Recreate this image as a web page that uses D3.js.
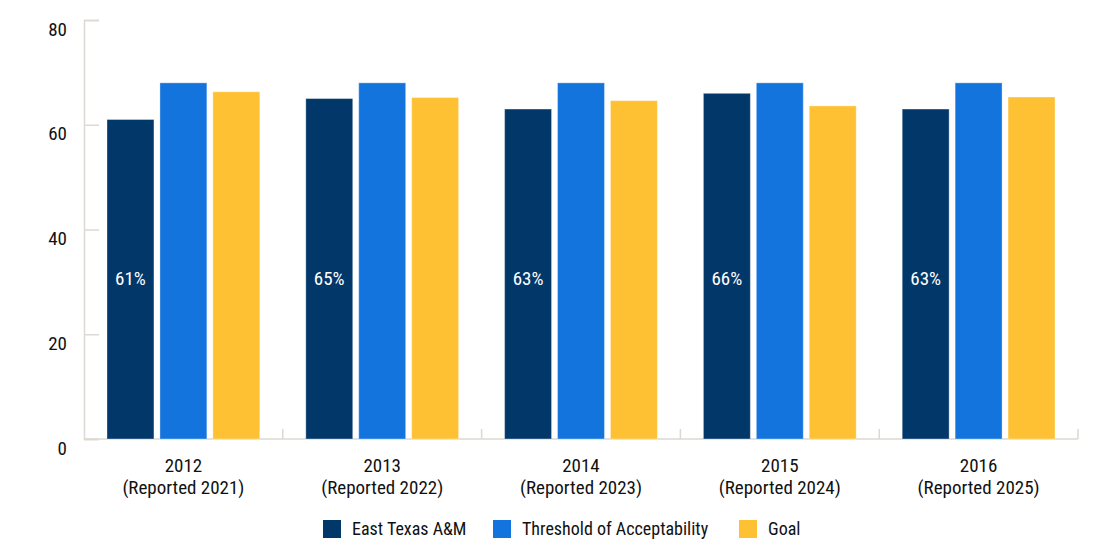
<!DOCTYPE html>
<html>
<head>
<meta charset="utf-8">
<script src="https://cdn.jsdelivr.net/npm/d3@7"></script>
<style>
  body { margin: 0; background: #fff; }
  text { font-family: "Roboto Condensed", "Liberation Sans Narrow", "DejaVu Sans Condensed", sans-serif; }
</style>
</head>
<body>
<div id="graph"></div>
<script>
//Chart data.
let categories = ["2012", "2013", "2014", "2015", "2016"]
let reported = ["(Reported 2021)", "(Reported 2022)", "(Reported 2023)", "(Reported 2024)", "(Reported 2025)"]
let seriesNames = ["East Texas A&M", "Threshold of Acceptability", "Goal"]
let eastTexas = [61, 65, 63, 66, 63]
let threshold = [68, 68, 68, 68, 68]
let goal = [66.3, 65.2, 64.6, 63.6, 65.3]
let yTicks = [0, 20, 40, 60, 80]

let colors = ["#02376a", "#1374de", "#ffc134"]

//Dimensions of the graph.
let w = 1112
let h = 557
let plotLeft = 84
let plotRight = 1078
let plotTop = 20
let plotBottom = 439

let xScale
let innerScale
let yScale

const svg = d3.select("#graph")
  .append("svg")
  .attr("width", w)
  .attr("height", h)

getScales()
drawAxis()
drawChart()
addLabels()
drawLegend()

function getScales() {
  xScale = d3.scaleBand()
    .domain(categories)
    .range([plotLeft, plotRight])

  //Three bars inside each group, 47px wide with a 6px gap.
  innerScale = d3.scaleBand()
    .domain(seriesNames)
    .range([23, xScale.bandwidth() - 23])
    .paddingInner(6 / 53)

  yScale = d3.scaleLinear()
    .domain([0, 80])
    .range([plotBottom, plotTop])
}

function drawAxis() {
  //Y axis with ticks pointing into the plot.
  const yAxis = svg.append("g")
    .attr("transform", "translate(" + plotLeft + ",0)")
    .call(d3.axisRight(yScale).tickValues(yTicks).tickSize(15).tickFormat(""))
  yAxis.select(".domain").attr("stroke", "#dcd8d3").attr("stroke-width", 1.5)
  yAxis.selectAll(".tick line").attr("stroke", "#dcd8d3").attr("stroke-width", 1.5)

  svg.selectAll(".y-label")
    .data(yTicks)
    .enter()
    .append("text")
    .attr("class", "y-label")
    .attr("x", 67)
    .attr("y", (d) => yScale(d) + 9)
    .attr("dy", "0.35em")
    .attr("text-anchor", "end")
    .attr("font-size", 19)
    .attr("fill", "#111")
    .text((d) => d)

  //X axis with short ticks at the group boundaries.
  const bounds = categories.map((c) => xScale(c) + xScale.bandwidth())
  svg.append("line")
    .attr("x1", plotLeft)
    .attr("x2", plotRight)
    .attr("y1", plotBottom)
    .attr("y2", plotBottom)
    .attr("stroke", "#dcd8d3")
    .attr("stroke-width", 1.5)
  svg.selectAll(".x-tick")
    .data(bounds)
    .enter()
    .append("line")
    .attr("class", "x-tick")
    .attr("x1", (d) => d)
    .attr("x2", (d) => d)
    .attr("y1", plotBottom)
    .attr("y2", plotBottom - 10)
    .attr("stroke", "#dcd8d3")
    .attr("stroke-width", 1.5)
}

function drawChart() {
  let series = [eastTexas, threshold, goal]
  series.forEach((values, i) => {
    svg.selectAll(".bar-" + i)
      .data(values)
      .enter()
      .append("rect")
      .attr("class", "bar-" + i)
      .attr("x", (d, j) => xScale(categories[j]) + innerScale(seriesNames[i]))
      .attr("y", (d) => yScale(d))
      .attr("width", innerScale.bandwidth())
      .attr("height", (d) => plotBottom - yScale(d))
      .attr("fill", colors[i])
      .attr("stroke", "rgba(255,255,255,0.35)")
      .attr("stroke-width", 1)
  })

  //Percent labels inside the East Texas bars.
  svg.selectAll(".value-label")
    .data(eastTexas)
    .enter()
    .append("text")
    .attr("class", "value-label")
    .attr("x", (d, j) => xScale(categories[j]) + innerScale(seriesNames[0]) + innerScale.bandwidth() / 2)
    .attr("y", yScale(30.6))
    .attr("dy", "0.35em")
    .attr("text-anchor", "middle")
    .attr("font-size", 19)
    .attr("fill", "#fff")
    .text((d) => d + "%")
}

function addLabels() {
  const groups = svg.selectAll(".cat-label")
    .data(categories)
    .enter()
    .append("text")
    .attr("class", "cat-label")
    .attr("text-anchor", "middle")
    .attr("font-size", 19)
    .attr("fill", "#111")

  groups.append("tspan")
    .attr("x", (d) => xScale(d) + xScale.bandwidth() / 2)
    .attr("y", 465)
    .attr("dy", "0.35em")
    .text((d) => d)

  groups.append("tspan")
    .attr("x", (d) => xScale(d) + xScale.bandwidth() / 2)
    .attr("y", 487)
    .attr("dy", "0.35em")
    .text((d, j) => reported[j])
}

function drawLegend() {
  let legendX = [323, 493, 739]
  const legend = svg.selectAll(".legend")
    .data(seriesNames)
    .enter()
    .append("g")
    .attr("class", "legend")
    .attr("transform", (d, i) => "translate(" + legendX[i] + ", 520)")

  legend.append("rect")
    .attr("width", 18)
    .attr("height", 18)
    .attr("fill", (d, i) => colors[i])

  legend.append("text")
    .attr("x", 29)
    .attr("y", 9)
    .attr("dy", "0.35em")
    .attr("font-size", 18)
    .attr("fill", "#111")
    .text((d) => d)
}
</script>
</body>
</html>
